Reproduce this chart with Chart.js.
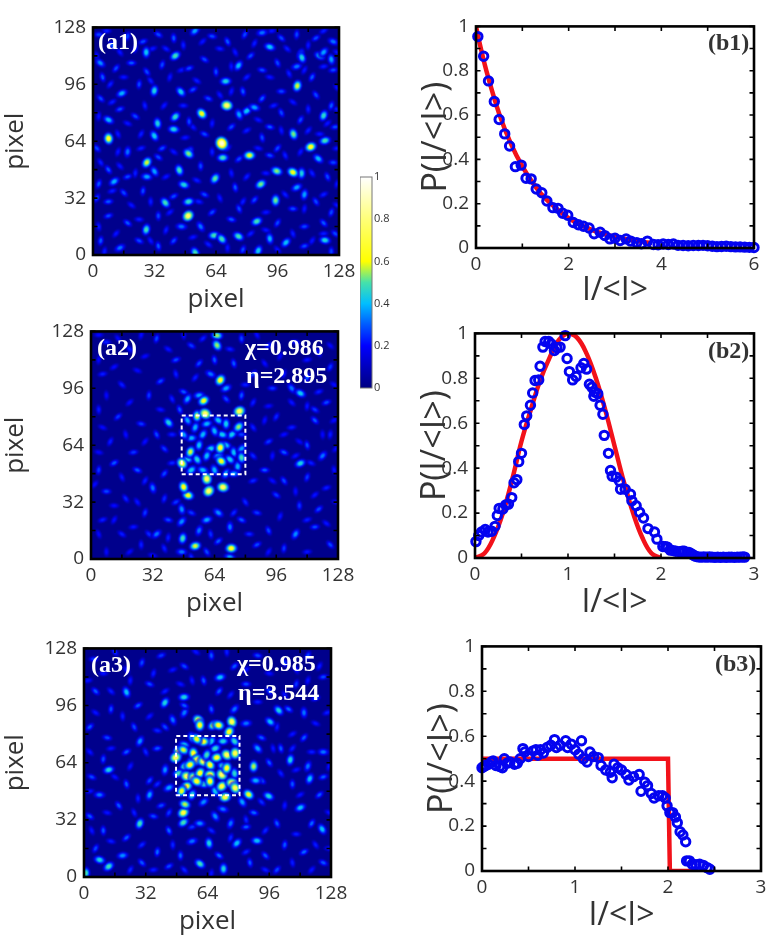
<!DOCTYPE html>
<html><head><meta charset="utf-8">
<script src="https://cdn.jsdelivr.net/npm/chart.js@4"></script>
<style>
html,body{margin:0;padding:0;background:#fff;width:779px;height:950px;overflow:hidden}
canvas{position:absolute}
.t{position:absolute;z-index:5;font:bold 24px "Liberation Serif",serif;line-height:1;white-space:nowrap}
.w{color:#fff}.d{color:#333}
</style></head><body>
<div class="t w" style="left:98px;top:29px">(a1)</div>
<div class="t w" style="left:97px;top:335px">(a2)</div>
<div class="t w" style="left:245px;top:335px">χ=0.986</div>
<div class="t w" style="left:246px;top:363px">η=2.895</div>
<div class="t w" style="left:91px;top:652px">(a3)</div>
<div class="t w" style="left:237px;top:651px">χ=0.985</div>
<div class="t w" style="left:238px;top:680px">η=3.544</div>
<div class="t d" style="left:708px;top:30px">(b1)</div>
<div class="t d" style="left:708px;top:338px">(b2)</div>
<div class="t d" style="left:715px;top:651px">(b3)</div>
<script>
// ---------- data ----------
const a1Faint = [
[7,126,.15],[14,114,.14],[22,116,.15],[31,116,.14],[38,116,.15],[47,118,.15],[57,120,.14],[66,116,.15],[74,114,.14],[84,119,.15],[93,126,.14],[101,116,.15],[112,118,.14],[120,126,.15],[127,114,.14],
[2,112,.14],[9,96,.15],[16,100,.14],[30,98,.15],[40,100,.14],[46,104,.14],[54,98,.15],[72,106,.14],[80,100,.15],[92,100,.14],[102,102,.15],[110,104,.14],[120,106,.15],[127,94,.14],
[3,78,.14],[10,86,.15],[18,74,.14],[27,84,.15],[37,84,.14],[47,84,.15],[66,90,.14],[72,92,.14],[94,84,.15],[104,86,.14],[112,82,.15],[122,74,.14],[127,82,.15],[13,68,.14],[25,68,.15],[48,66,.14],[52,72,.14],[62,74,.14],[80,70,.15],[86,76,.14],[98,70,.14],[112,70,.15],[118,68,.14],
[4,52,.15],[13,58,.14],[25,60,.15],[42,58,.14],[62,58,.15],[70,60,.14],[86,60,.14],[100,56,.15],[108,58,.14],[127,60,.15],[14,50,.14],[22,46,.15],[38,44,.14],[54,42,.15],[72,46,.14],[80,44,.15],[90,46,.14],[114,46,.15],[127,40,.14],
[10,36,.15],[20,28,.14],[30,30,.15],[40,24,.14],[55,30,.15],[66,32,.14],[78,30,.15],[90,24,.14],[100,34,.15],[110,26,.14],[120,34,.15],[127,28,.14],
[3,16,.15],[12,12,.14],[24,20,.15],[30,8,.14],[38,14,.15],[52,10,.14],[60,6,.15],[70,4,.14],[82,12,.15],[90,14,.14],[104,12,.15],[114,8,.14],[120,12,.15],[96,3,.14],[6,2,.15]
];
const a1Spots = [
[3,124,.2],[10,118,.22],[18,123,.2],[26,120,.2],[34,124,.2],[42,122,.22],[53,126,.3],[62,123,.2],[70,120,.22],[79,124,.2],[88,125,.25],[98,122,.2],[106,124,.2],[116,122,.2],[125,120,.25],
[5,100,.22],[12,105,.2],[20,108,.22],[28,103,.2],[36,107,.2],[50,105,.2],[58,110,.2],[64,103,.2],[82,112,.2],[88,104,.2],[96,108,.2],[114,100,.22],[125,104,.2],[4,88,.2],[24,96,.2],[52,93,.2],[60,88,.2],[78,92,.22],[88,88,.22],[98,92,.2],[116,90,.2],[124,84,.22],
[14,82,.2],[22,78,.2],[50,75,.2],[72,72,.2],[92,72,.22],[98,80,.2],[108,76,.2],[126,72,.2],[2,60,.2],[18,58,.25],[36,60,.2],[58,68,.2],[88,66,.2],[96,60,.2],[125,52,.2],
[8,48,.22],[3,40,.22],[18,44,.2],[34,55,.2],[56,50,.2],[76,54,.2],[92,56,.2],[122,44,.2],[2,32,.2],[8,30,.22],[16,35,.2],[26,36,.2],[42,33,.2],[58,34,.2],[74,38,.22],[84,31,.2],[104,26,.2],[116,30,.2],[124,24,.2],
[8,22,.2],[18,18,.22],[34,22,.2],[62,24,.2],[72,20,.22],[76,26,.2],[96,18,.2],[110,16,.2],[120,18,.22],[4,8,.22],[14,4,.25],[24,8,.2],[34,5,.22],[42,8,.2],[46,16,.25],[56,16,.25],[78,3,.2],[110,5,.2],[126,12,.2],[124,2,.2],
[80,81,.35],[84,83,.3],[76,79,.3],[50,58,.32],[63,11,.42],[67,9,.42],[110,34,.3],[106,38,.3],[118,112,.35],[124,110,.3],[120,114,.3],[28,44,.3],[32,47,.3],[108,113,.28],[106,106,.25],
[3.8,108,.28],[27.7,114,.35],[42.8,112,.42],[92,117,.35],[108.7,111,.38],[75.7,106.5,.33],[69,97.7,.38],[45.7,91.8,.36],[31.9,92.4,.38],[15,90.9,.32],[8.1,76,.33],[33.6,74,.38],[42.8,77.7,.4],[42,70.7,.38],[31.9,67,.36],[120,78.4,.4],[120.7,64.3,.42],[117.2,54.2,.33],[108.5,45.9,.38],[11,41.3,.32],[47.3,39.5,.38],[44.9,47.7,.42],[63.5,43,.44],[67.5,54.7,.42],[37.6,29.4,.42],[27.7,14.3,.42],[85.2,18.9,.42],[75.7,10.5,.42],[92,9.2,.32],[100.4,7,.34],[120.7,8.3,.38],[53.2,1.3,.42],[86,2.4,.36],[49.7,30,.4],[49.7,57,.47],
[95,30.7,.46],[87.3,39.8,.46],[95.6,47.2,.47],[104.3,68,.46],[28,52,.52],[81.4,56,.55],[56.6,79.5,.56],[106.3,95.1,.52],[113.3,60.8,.6],[104,46.5,.56],[8.1,65.5,.6],[49.5,22,.72],[69.6,84.1,.72],[67,62.8,.88]
];
const a2Faint = [
[4,126,.12],[14,124,.12],[26,126,.13],[28,114,.12],[40,118,.14],[48,126,.14],[58,124,.15],[72,118,.15],[86,126,.13],[98,114,.12],[112,112,.14],[124,120,.12],[4,112,.12],[12,108,.13],[24,106,.12],[44,104,.15],[54,102,.15],[80,98,.15],[90,110,.13],[100,104,.14],[118,94,.15],[126,98,.13],
[8,92,.12],[20,88,.13],[36,84,.14],[42,90,.15],[84,88,.15],[92,86,.12],[104,88,.14],[112,86,.14],[126,78,.13],[6,74,.12],[18,70,.13],[28,66,.13],[42,70,.15],[84,74,.15],[90,78,.13],[100,70,.13],[108,66,.12],[120,70,.12],[127,62,.13],
[4,60,.12],[16,46,.14],[28,44,.15],[42,54,.16],[84,58,.16],[94,58,.13],[106,58,.14],[114,54,.15],[126,50,.14],[2,42,.12],[12,30,.13],[24,32,.14],[38,34,.16],[84,44,.16],[94,44,.13],[106,38,.13],[116,36,.14],[127,32,.13],
[4,14,.12],[12,22,.13],[22,18,.14],[30,14,.16],[40,12,.15],[44,32,.18],[52,26,.18],[62,14,.17],[74,26,.16],[82,14,.16],[80,32,.16],[98,24,.14],[112,22,.15],[122,20,.14],[8,4,.12],[20,4,.12],[32,2,.13],[52,1,.16],[92,4,.13],[112,4,.14]
];
const a2Spots = [
[8,122,.15],[20,118,.15],[34,124,.2],[44,112,.2],[52,120,.18],[78,124,.2],[92,120,.15],[106,122,.15],[118,116,.15],[124,108,.18],[6,104,.15],[16,98,.15],[30,92,.18],[36,100,.2],[48,94,.22],[74,110,.22],[84,104,.2],[94,96,.18],[104,96,.25],[112,102,.22],[122,88,.2],[116,84,.18],
[4,84,.15],[14,80,.18],[26,76,.18],[34,70,.2],[10,66,.15],[22,60,.18],[38,62,.18],[4,50,.18],[12,54,.22],[24,50,.22],[32,40,.25],[38,48,.2],[8,38,.2],[18,34,.16],[28,26,.18],[6,22,.15],[16,14,.15],[26,8,.15],[34,14,.25],[40,22,.2],[38,6,.15],
[96,80,.16],[104,74,.15],[116,78,.22],[124,70,.15],[92,66,.18],[100,60,.22],[112,64,.2],[120,58,.25],[90,50,.22],[100,44,.2],[112,46,.18],[122,40,.15],[96,36,.18],[108,30,.18],[118,28,.2],[86,26,.18],[92,16,.2],[106,14,.28],[116,18,.2],[124,8,.2],[100,6,.18],[86,8,.2],[78,22,.22],
[47,28,.28],[47,21,.28],[47,4,.25],[60,4,.2],[56,16,.25],[60,22,.3],[66,26,.28],[72,18,.25],[66,10,.22],[72,1,.3],[46,84,.22],[50,90,.3],[56,92,.3],[70,90,.2],[78,92,.22],[70,96,.3],[62,104,.25],[64,112,.22],[56,110,.2],[78,70,.2],
[50,78,.3],[54,74,.32],[60,76,.32],[66,78,.34],[70,76,.36],[73,70,.36],[68,70,.36],[64,72,.33],[58,70,.33],[52,68,.32],[48,70,.3],[56,64,.34],[62,62,.36],[70,64,.34],[74,60,.34],[78,62,.3],[50,56,.36],[55,56,.38],[60,58,.34],[66,58,.32],[72,56,.36],[76,52,.33],[52,50,.36],[58,50,.33],[64,50,.33],[70,48,.33],[74,48,.3],
[40.2,76.7,.38],[47.5,11.6,.42],[108.5,53.8,.38],[108.5,93.2,.36],[78,57,.42],[76.5,74.3,.48],[65.3,125.7,.48],[65.3,120.2,.48],[51.5,60.2,.52],[54,7.3,.52],[67.5,55,.56],[55,80.4,.52],[58.4,89,.56],[50.3,35.8,.56],[48,40.5,.58],[67,100.6,.6],[72.7,6,.6],[47.2,53.8,.65],[67,62.6,.62],[76.9,83.1,.7],[59.2,81.7,.74],[60,45.1,.7],[61,38.2,.72],[68.4,40.4,.7]
];
const a3Faint = [
[10,114,.14],[22,116,.14],[36,114,.15],[46,116,.14],[58,126,.14],[74,126,.15],[84,116,.14],[96,114,.14],[110,116,.14],[122,118,.15],[2,110,.14],[14,104,.15],[24,110,.14],[42,104,.15],[50,108,.14],[56,110,.14],[76,102,.15],[90,98,.15],[104,102,.14],[116,110,.14],[126,92,.15],
[6,92,.14],[20,90,.15],[34,90,.14],[38,82,.16],[32,70,.16],[24,62,.14],[14,72,.14],[3,70,.14],[100,84,.15],[108,80,.14],[120,86,.14],[98,72,.14],[108,72,.15],[118,70,.15],[102,58,.15],[127,62,.14],[110,60,.14],[16,56,.14],[28,44,.15],[38,52,.16],[12,36,.14],[26,36,.15],[44,36,.18],[3,48,.14],
[92,42,.17],[104,40,.14],[112,46,.14],[127,36,.14],[84,32,.16],[94,26,.16],[110,24,.15],[120,18,.15],[76,22,.16],[56,28,.18],[66,26,.16],[46,18,.16],[30,18,.16],[14,20,.15],[4,26,.14],[24,4,.16],[36,4,.15],[52,4,.16],[66,2,.14],[84,14,.16],[94,4,.15],[108,8,.15],[118,4,.14],[127,16,.15]
];
const a3Spots = [
[5,122,.18],[16,126,.18],[30,120,.2],[40,124,.18],[52,118,.2],[66,124,.22],[78,118,.22],[90,124,.2],[104,120,.18],[116,124,.2],[124,112,.2],[6,104,.22],[14,94,.2],[28,96,.22],[34,108,.2],[62,110,.22],[70,104,.22],[84,108,.2],[96,104,.2],[110,108,.18],[120,100,.2],[106,94,.24],[114,92,.25],
[3,84,.22],[12,78,.2],[26,84,.2],[29,76,.28],[38,72,.22],[42,84,.2],[10,66,.2],[22,70,.22],[4,56,.2],[22,52,.22],[34,54,.2],[8,46,.25],[18,40,.22],[34,46,.3],[40,40,.2],[3,34,.22],[10,26,.22],[22,22,.22],[36,34,.2],[44,26,.24],[6,16,.2],[20,12,.28],[30,8,.22],[38,14,.24],[44,6,.2],
[92,78,.22],[102,72,.22],[114,78,.22],[124,70,.25],[96,64,.22],[116,62,.25],[124,56,.22],[92,54,.24],[108,52,.22],[122,46,.22],[88,36,.24],[100,30,.22],[118,30,.24],[84,28,.22],[94,12,.22],[104,18,.22],[114,14,.24],[124,8,.22],[86,8,.22],[100,4,.2],[60,30,.28],[68,34,.28],[76,30,.25],[56,20,.25],[70,12,.24],[50,12,.24],[62,42,.28],[72,38,.25],
[46,88,.25],[52,92,.26],[84,86,.25],[90,72,.3],[42,60,.28],[44,50,.3],[52,96,.22],[66,94,.22],[78,94,.25],[89,54,.32],[82,42,.3],[28.9,29.9,.42],[12.8,60,.38],[60.1,7.4,.42],[72.3,4.6,.38],[12.8,5.9,.42],[8.1,9.6,.38],[22,103.5,.34],[41.9,97.6,.38],[51.8,100.7,.38],[100.9,93.3,.38],[106.9,65.6,.38],[112.1,38.8,.34],[95.7,45.3,.38],[64.8,18.9,.38],[79.2,18.9,.34],[89.6,20.3,.34],[123.4,26.8,.34],[117,55,.34],[70.5,111.8,.34],[96.5,86.9,.34],[1,2.2,.42],[51.5,30.5,.42],
[52,74,.36],[56,78,.38],[66,76,.36],[72,76,.38],[78,76,.4],[55,64,.4],[68,72,.4],[72,62,.42],[78,58,.4],[52,62,.42],[62,52,.4],[68,48,.36],[56,46,.4],[49,58,.42],
[59.3,87.8,.65],[60,85,.6],[67,85,.52],[69.7,85,.6],[76.6,86.9,.68],[75.2,81.3,.6],[61.9,75.8,.6],[58.4,77.3,.56],[48.9,70.2,.65],[47.5,66.9,.7],[51.5,71.2,.52],[56.7,69.3,.6],[58.4,65.6,.65],[61.9,64.7,.68],[65.3,62.8,.6],[63.6,68.4,.42],[68.8,66.9,.6],[74,68.4,.7],[78.3,69.3,.68],[54.9,62.8,.6],[53.2,56.4,.7],[56.7,55.5,.7],[60.1,58.2,.6],[65.3,57.3,.65],[71.4,57.3,.72],[74,61,.6],[53.2,50.8,.6],[58.4,53.6,.6],[65.3,53.6,.6],[71.4,50.8,.65],[76.6,52.7,.7],[78.3,49.9,.68],[50.6,48.1,.55],[73.1,44.7,.65],[85.3,46.2,.55],[87.9,61.9,.5],[51.5,36,.65],[52.3,40.7,.5]
];
const boxA2X = [47,80,80,47,47], boxA2Y = [47.7,47.7,80.7,80.7,47.7];
const boxA3X = [47.7,80.6,80.6,47.7,47.7], boxA3Y = [45.8,45.8,79,79,45.8];

const b1X = [.04,.165,.27,.395,.5,.62,.725,.85,.975,1.08,1.19,1.3,1.42,1.53,1.66,1.77,1.87,1.98,2.1,2.21,2.32,2.44,2.55,2.68,2.78,2.89,3,3.11,3.24,3.34,3.47,3.57,3.7,3.83,3.93,4.04,4.15,4.26,4.36,4.47,4.58,4.69,4.8,4.9,5,5.1,5.2,5.3,5.4,5.5,5.6,5.7,5.8,5.9,6];
const b1Y = [.954,.865,.754,.661,.58,.515,.46,.367,.374,.315,.312,.266,.249,.212,.182,.179,.157,.148,.115,.105,.098,.09,.064,.071,.056,.041,.044,.034,.041,.031,.024,.019,.031,.016,.015,.018,.016,.018,.012,.011,.01,.011,.011,.012,.01,.008,.006,.007,.008,.006,.005,.005,.004,.003,.002];
const b1LineX = [0,.1,.25,.5,.75,1,1.25,1.5,2,2.5,3,3.5,3.8];
const b1LineY = [1,.905,.78,.606,.472,.368,.287,.223,.135,.082,.05,.03,.022];

const b2X = [.01,.04,.07,.11,.14,.18,.215,.24,.26,.3,.33,.36,.395,.42,.45,.47,.5,.53,.556,.596,.62,.646,.685,.7,.73,.754,.793,.82,.854,.88,.915,.97,.99,1.015,1.05,1.087,1.14,1.17,1.2,1.23,1.256,1.285,1.278,1.32,1.345,1.375,1.39,1.435,1.457,1.475,1.518,1.554,1.565,1.615,1.672,1.687,1.733,1.77,1.812,1.86,1.93,1.956,2.02,2.05,2.07,2.1,2.13,2.16,2.2,2.23,2.25,2.28,2.3,2.33,2.35,2.37,2.4,2.43,2.46,2.49,2.52,2.55,2.58,2.61,2.64,2.67,2.7,2.73,2.76,2.79,2.82,2.85,2.88,2.9];
const b2Y = [.073,.1,.116,.127,.116,.119,.141,.189,.221,.218,.236,.24,.269,.335,.349,.429,.466,.594,.633,.68,.735,.79,.793,.854,.939,.964,.964,.953,.924,.936,.939,.99,.888,.83,.793,.808,.847,.866,.841,.774,.76,.739,.72,.731,.68,.64,.546,.466,.39,.364,.36,.342,.306,.306,.284,.255,.233,.204,.178,.131,.116,.084,.051,.05,.048,.035,.033,.03,.028,.03,.03,.025,.025,.018,.012,.008,.005,.004,.005,.004,.005,.004,.003,.004,.003,.004,.003,.004,.004,.003,.004,.004,.005,.004];
const b2LineX = [0,.1,.2,.3,.4,.5,.6,.7,.8,.9,1,1.1,1.2,1.3,1.4,1.5,1.6,1.7,1.8,1.9,2];
const b2LineY = [0,.02,.09,.2,.35,.52,.66,.79,.89,.97,1,.98,.91,.8,.66,.5,.34,.2,.09,.02,0];

const b3X = [0,.02,.04,.07,.1,.12,.15,.19,.22,.24,.27,.3,.35,.38,.41,.44,.46,.5,.55,.58,.6,.63,.66,.7,.74,.78,.8,.84,.9,.92,.96,1,1.04,1.07,1.09,1.13,1.16,1.2,1.25,1.28,1.33,1.38,1.4,1.42,1.46,1.5,1.55,1.58,1.63,1.69,1.71,1.75,1.78,1.82,1.85,1.9,1.94,1.97,1.99,2.02,2.05,2.08,2.1,2.13,2.16,2.19,2.2,2.23,2.26,2.3,2.34,2.38,2.42,2.45];
const b3Y = [.46,.465,.47,.475,.485,.49,.47,.465,.46,.5,.48,.485,.475,.48,.5,.545,.53,.51,.535,.54,.515,.54,.525,.55,.56,.585,.55,.56,.58,.55,.565,.54,.52,.58,.5,.485,.53,.51,.505,.47,.45,.44,.415,.475,.46,.45,.43,.405,.42,.43,.355,.395,.38,.345,.325,.335,.335,.325,.29,.26,.26,.24,.215,.175,.16,.13,.045,.045,.03,.028,.03,.025,.015,.008];
const b3LineX = [0,2,2.02,2.3];
const b3LineY = [.5,.5,0,0];

const colorbarRange = [0,1];
const colorbarStops = [[0,0,0,130],[.1,0,0,190],[.2,0,0,255],[.3,0,90,255],[.4,0,190,255],[.5,70,225,170],[.6,255,255,0],[.8,255,255,120],[1,255,255,255]];

// ---------- helpers ----------
function cmap(v){
  for(let i=1;i<colorbarStops.length;i++){
    const a=colorbarStops[i-1],b=colorbarStops[i];
    if(v<=b[0]){const t=(v-a[0])/(b[0]-a[0]);
      return [1,2,3].map(k=>Math.round(a[k]+(b[k]-a[k])*t));}
  }
  return [255,255,255];
}
const sprites={};
function sprite(v){
  const key=Math.round(v*100);
  if(sprites[key])return sprites[key];
  const w=Math.min(1,v+.09);
  const r=Math.round(7+2*v),ratio=Math.min(.9,.5+.5*v),c=document.createElement('canvas');
  c.width=c.height=2*r;
  const g=c.getContext('2d');
  g.translate(r,r);g.scale(1,ratio);
  const gr=g.createRadialGradient(0,0,0,0,0,r);
  [[0,1,1],[.25,.9,1],[.45,.62,1],[.65,.4,.9],[.85,.25,.45],[1,.15,0]].forEach(s=>{
    const col=cmap(w*s[1]);
    gr.addColorStop(s[0],`rgba(${col[0]},${col[1]},${col[2]},${s[2]})`);
  });
  g.fillStyle=gr;g.beginPath();g.arc(0,0,r,0,7);g.fill();
  return sprites[key]=c;
}
const frame={id:'frame',
  beforeDatasetsDraw(ch,a,o){
    if(o.bg){const k=ch.chartArea;ch.ctx.save();ch.ctx.fillStyle=o.bg;ch.ctx.fillRect(k.left,k.top,k.right-k.left,k.bottom-k.top);ch.ctx.restore();}
  },
  afterDatasetsDraw(ch){
    const c=ch.ctx,k=ch.chartArea,L=4.5;
    c.save();c.strokeStyle='#000';c.lineWidth=1.6;c.beginPath();
    ch.scales.x.ticks.forEach(t=>{const p=ch.scales.x.getPixelForValue(t.value);
      c.moveTo(p,k.bottom);c.lineTo(p,k.bottom-L);c.moveTo(p,k.top);c.lineTo(p,k.top+L);});
    ch.scales.y.ticks.forEach(t=>{const p=ch.scales.y.getPixelForValue(t.value);
      c.moveTo(k.left,p);c.lineTo(k.left+L,p);c.moveTo(k.right,p);c.lineTo(k.right-L,p);});
    c.stroke();c.lineWidth=2.6;c.strokeRect(k.left,k.top,k.right-k.left,k.bottom-k.top);c.restore();
  }};
const zip=(xs,ys)=>xs.map((x,i)=>({x,y:ys[i]}));

function panel(box,datasets,xo,yo,bg,xTitle,yTitle,leftW,bottomH,ySize,xSize){
  const PT=14,PR=24;
  const cv=document.createElement('canvas');
  const w=box.r-box.l+leftW+PR,h=box.b-box.t+PT+bottomH;
  cv.width=w;cv.height=h;
  cv.style.left=(box.l-leftW)+'px';cv.style.top=(box.t-PT)+'px';
  document.body.appendChild(cv);
  const tickFont={family:'"Open Sans"',size:19};
  new Chart(cv,{type:'scatter',data:{datasets},plugins:[frame],options:{
    responsive:false,animation:false,layout:{padding:{top:PT,right:PR,left:0,bottom:0},autoPadding:false},
    plugins:{legend:{display:false},tooltip:{enabled:false},frame:{bg}},
    scales:{
      x:{type:'linear',min:xo.min,max:xo.max,grid:{display:false,drawTicks:false},border:{display:false},
        ticks:{stepSize:xo.step,autoSkip:false,maxRotation:0,padding:5,color:'#333',font:tickFont,includeBounds:false,
          callback:v=>{const q=v/xo.label;return Math.abs(q-Math.round(q))<1e-6?String(+v.toFixed(2)):'';}},
        title:{display:true,text:xTitle,color:'#333',font:{family:'"Open Sans"',size:xSize},padding:0},
        afterFit:s=>{s.height=bottomH;}},
      y:{type:'linear',min:yo.min,max:yo.max,grid:{display:false,drawTicks:false},border:{display:false},
        ticks:{stepSize:yo.step,autoSkip:false,padding:7,color:'#333',font:tickFont,
          callback:v=>{const q=v/yo.label;return Math.abs(q-Math.round(q))<1e-6?String(+v.toFixed(2)):'';}},
        title:{display:true,text:yTitle,color:'#333',font:{family:'"Open Sans"',size:ySize},padding:0},
        afterFit:s=>{s.width=leftW;}}
    }}});
}
function spotSet(spots,order){
  return {data:spots.map(s=>({x:s[0],y:s[1],v:s[2]})),pointRadius:6,pointBorderWidth:0,
    pointStyle:c=>sprite(c.raw?c.raw.v:.2),pointRotation:c=>(c.dataIndex*53)%180,order};
}
function heat(faint,spots,bx,by){
  const ds=[];
  if(bx)ds.push({data:zip(bx,by),showLine:true,borderColor:'#fff',borderWidth:2,borderDash:[4,3],pointRadius:0,order:0});
  ds.push(spotSet(spots,1));
  ds.push(spotSet(faint,2));
  return ds;
}
function curve(xs,ys,lx,ly,tension){
  return [{data:zip(xs,ys),pointRadius:4.2,pointBorderWidth:3,pointBorderColor:'#0404f0',pointBackgroundColor:'rgba(0,0,0,0)',order:0,clip:false},
    {data:zip(lx,ly),showLine:true,borderColor:'#f2121a',borderWidth:4.5,pointRadius:0,tension,order:1}];
}
const pix={min:0,max:128,step:16,label:32};
const prob={min:0,max:1,step:.1,label:.2};
const navy='rgb(0,0,140)';
panel({l:93,r:339,t:23,b:255},heat(a1Faint,a1Spots),pix,pix,navy,'pixel','pixel',93,60,26,26);
panel({l:91,r:338,t:327,b:559},heat(a2Faint,a2Spots,boxA2X,boxA2Y),pix,pix,navy,'pixel','pixel',91,60,26,26);
panel({l:84,r:331,t:644,b:877},heat(a3Faint,a3Spots,boxA3X,boxA3Y),pix,pix,navy,'pixel','pixel',84,60,26,26);
panel({l:476,r:754,t:22,b:248},curve(b1X,b1Y,b1LineX,b1LineY,.4),{min:0,max:6,step:1,label:2},prob,null,'I/<I>','P(I/<I>)',60,62,34,32);
panel({l:475,r:754,t:329,b:558},curve(b2X,b2Y,b2LineX,b2LineY,.4),{min:0,max:3,step:.5,label:1},prob,null,'I/<I>','P(I/<I>)',60,64,34,32);
panel({l:482,r:761,t:642,b:871},curve(b3X,b3Y,b3LineX,b3LineY,0),{min:0,max:3,step:.5,label:1},prob,null,'I/<I>','P(I/<I>)',60,64,34,32);

// colour bar
(function(){
  const cv=document.createElement('canvas');cv.width=40;cv.height=232;
  cv.style.left='360px';cv.style.top='167px';document.body.appendChild(cv);
  new Chart(cv,{type:'bar',data:{labels:[''],datasets:[{data:[colorbarRange],categoryPercentage:1,barPercentage:1,
    backgroundColor:c=>{const a=c.chart.chartArea;if(!a)return '#00f';
      const g=c.chart.ctx.createLinearGradient(0,a.bottom,0,a.top);
      colorbarStops.forEach(s=>g.addColorStop(s[0],`rgb(${s[1]},${s[2]},${s[3]})`));return g;}}]},
    plugins:[{id:'cbBorder',afterDatasetsDraw(ch){const k=ch.chartArea,c=ch.ctx;c.save();c.strokeStyle='#777';c.lineWidth=1;
      c.strokeRect(k.left,k.top,k.right-k.left,k.bottom-k.top);c.restore();}}],
    options:{responsive:false,animation:false,layout:{padding:{top:10,bottom:11,left:0,right:0},autoPadding:false},
      plugins:{legend:{display:false},tooltip:{enabled:false}},
      scales:{x:{display:false},
        y:{position:'right',min:0,max:1,grid:{display:false,drawTicks:false},border:{display:false},
          ticks:{stepSize:.2,padding:2,color:'#333',font:{family:'"Open Sans"',size:11},callback:v=>String(+v.toFixed(1))},
          afterFit:s=>{s.width=28;}}}}});
})();
</script>
</body></html>
